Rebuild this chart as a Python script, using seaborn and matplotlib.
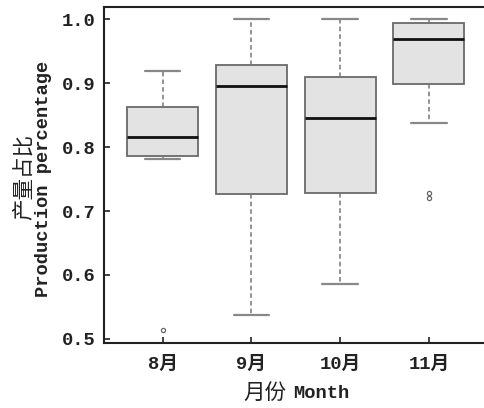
import numpy as np
import pandas as pd
import matplotlib
matplotlib.use("Agg")
import matplotlib.pyplot as plt
import seaborn as sns

# monthly production share samples, read back from the box summaries
months = ["8月", "9月", "10月", "11月"]
aug = [0.514, 0.782, 0.787, 0.800, 0.816, 0.840, 0.863, 0.890, 0.920]
sep = [0.537, 0.600, 0.726, 0.800, 0.896, 0.910, 0.929, 0.960, 1.000]
oct_ = [0.586, 0.650, 0.729, 0.800, 0.846, 0.880, 0.910, 0.950, 1.000]
nov = [0.721, 0.729, 0.838, 0.899, 0.920, 0.950, 0.970, 0.980, 0.990,
       0.995, 0.997, 0.999, 1.000]
yticks = [0.5, 0.6, 0.7, 0.8, 0.9, 1.0]

df = pd.concat([pd.DataFrame({"month": m, "value": v})
                for m, v in zip(months, [aug, sep, oct_, nov])])

sns.set_style("ticks")
plt.rcParams["font.family"] = ["Liberation Mono", "Noto Sans CJK SC"]
plt.rcParams["font.weight"] = "bold"

fig = plt.figure(figsize=(4.84, 4.08), dpi=100)
ax = fig.add_axes([104/484, 65/408, 383.5/484, 336/408])

sns.boxplot(data=df, x="month", y="value", order=months, ax=ax,
            width=0.8, whis=1.5, color="#e3e3e3", linecolor="#6a6a6a",
            linewidth=1.3, fliersize=3.0,
            boxprops={"facecolor": "#e3e3e3", "edgecolor": "#6a6a6a"},
            medianprops={"color": "#111111", "linewidth": 2.0},
            whiskerprops={"color": "#777777", "linestyle": (0, (3, 2)), "linewidth": 1.1},
            capprops={"color": "#888888", "linewidth": 1.6},
            flierprops={"marker": "o", "markerfacecolor": "none",
                        "markeredgecolor": "#666666", "markeredgewidth": 0.9})

ax.set_xlim(-0.66, 3.66)
ax.set_ylim(0.4935, 1.0195)
ax.set_yticks(yticks)
ax.set_yticklabels([f"{t:.1f}" for t in yticks])
ax.tick_params(direction="in", length=4, width=1.2, color="#222222",
               labelsize=13.5, labelcolor="#222222")
ax.tick_params(axis="y", pad=6)
ax.tick_params(axis="x", pad=9)
for s in ["left", "bottom", "top"]:
    ax.spines[s].set_visible(True)
    ax.spines[s].set_linewidth(1.5)
    ax.spines[s].set_color("#222222")
ax.spines["right"].set_visible(False)
ax.set_xlabel("")
ax.set_ylabel("")

# axis titles: Chinese part larger, like the original typesetting
fig.text(286/484, 1 - 393/408, "月份", ha="right", va="center",
         fontsize=15.5, color="#222222", family="Noto Sans CJK SC", weight="medium")
fig.text(293/484, 1 - 393/408, "Month", ha="left", va="center",
         fontsize=13.5, color="#222222")
fig.text(24/484, 1 - 177/408, "产量占比", ha="center", va="center",
         rotation=90, fontsize=15.5, color="#222222", family="Noto Sans CJK SC",
         weight="medium")
fig.text(44/484, 1 - 179/408, "Production percentage", ha="center", va="center",
         rotation=90, fontsize=13.5, color="#222222")

fig.savefig("out.png", dpi=100)
